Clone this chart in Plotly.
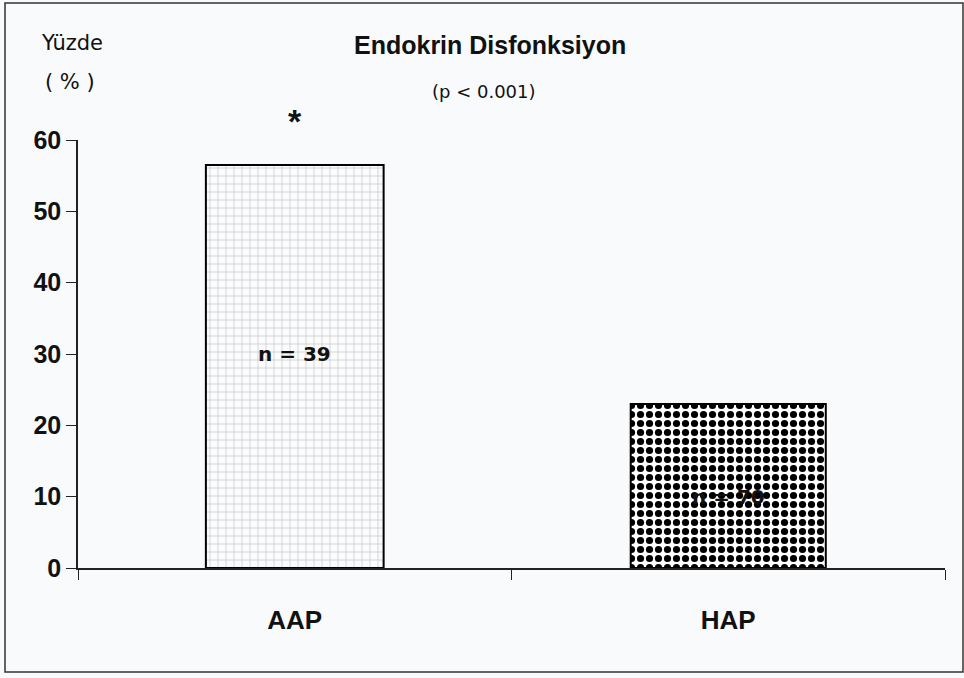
import plotly.graph_objects as go

categories = ["AAP", "HAP"]
values = [56.5, 23.0]
n_labels = ["n = 39", "n = 70"]
n_label_y = [30, 10]
y_ticks = [0, 10, 20, 30, 40, 50, 60]

BOLDF = "Liberation Sans Narrow, Arial Narrow, Liberation Sans, Arial, sans-serif"
REG = "DejaVu Sans, Verdana, sans-serif"

# plot area in pixels: x 78..945, y 140..568
L, R, T, B = 78, 945, 140, 568
W, H = 964, 678


def px(xp):
    return (xp - L) / (R - L)


def py(yp):
    return (B - yp) / (B - T)


fig = go.Figure()
fig.add_trace(go.Bar(
    x=categories[:1], y=values[:1], width=0.41,
    marker=dict(color="#fbfcfd", line=dict(color="black", width=2),
                pattern=dict(shape="+", fgcolor="#7a7a7a", bgcolor="#fbfcfd", size=8, solidity=0.14)),
    showlegend=False, hoverinfo="skip"))
fig.add_trace(go.Bar(
    x=categories[1:], y=values[1:], width=0.45,
    marker=dict(color="white", line=dict(color="black", width=2),
                pattern=dict(shape=".", fgcolor="black", fgopacity=1, bgcolor="white",
                             size=9, solidity=0.5, fillmode="replace")),
    showlegend=False, hoverinfo="skip"))

for c, t, yv in zip(categories, n_labels, n_label_y):
    fig.add_annotation(x=c, y=yv, text=f"<b>{t}</b>", showarrow=False,
                       font=dict(family=REG, size=20, color="#111"))

fig.add_annotation(x=categories[0], xref="x", yref="paper", y=py(100), text="<b>*</b>", showarrow=False,
                   font=dict(family="Liberation Sans, Arial, sans-serif", size=34, color="#111"))
fig.add_annotation(xref="paper", yref="paper", x=px(490), y=py(45), xanchor="center", yanchor="middle",
                   text="<b>Endokrin Disfonksiyon</b>", showarrow=False,
                   font=dict(family=BOLDF, size=25, color="#111"))
fig.add_annotation(xref="paper", yref="paper", x=px(484), y=py(91), xanchor="center", yanchor="middle",
                   text="(p < 0.001)", showarrow=False,
                   font=dict(family=REG, size=18, color="#111"))
fig.add_annotation(xref="paper", yref="paper", x=px(72), y=py(43), xanchor="center", yanchor="middle",
                   text="Yüzde", showarrow=False,
                   font=dict(family=REG, size=21, color="#111"))
fig.add_annotation(xref="paper", yref="paper", x=px(70), y=py(82), xanchor="center", yanchor="middle",
                   text="( % )", showarrow=False,
                   font=dict(family=REG, size=21, color="#111"))

fig.add_shape(type="rect", xref="paper", yref="paper", x0=px(5), y0=py(672), x1=px(963), y1=py(3),
              line=dict(color="#333", width=1.5), layer="below")

fig.update_layout(
    width=W, height=H,
    margin=dict(l=L, r=W - R, t=T, b=H - B, autoexpand=False),
    paper_bgcolor="#f8fafc", plot_bgcolor="rgba(0,0,0,0)",
    xaxis=dict(type="category", tickson="boundaries", ticks="outside", ticklen=10,
               tickcolor="#222", showline=True, linecolor="#222", linewidth=1.5,
               showgrid=False, range=[-0.5, 1.5], ticklabelstandoff=28,
               tickfont=dict(family=BOLDF, size=26, color="#111"),
               ticktext=["<b>AAP</b>", "<b>HAP</b>"], tickvals=categories),
    yaxis=dict(range=[0, 60], tickvals=y_ticks, ticks="outside", ticklen=10,
               tickcolor="#222", showline=True, linecolor="#222", linewidth=1.5,
               showgrid=False, zeroline=False, ticklabelstandoff=0,
               tickfont=dict(family=BOLDF, size=25, color="#111"),
               ticktext=[f"<b>{v}</b>" for v in y_ticks]),
)

fig.write_html("out.html", config={"displayModeBar": False},
               post_script="document.body.style.margin='0';")
